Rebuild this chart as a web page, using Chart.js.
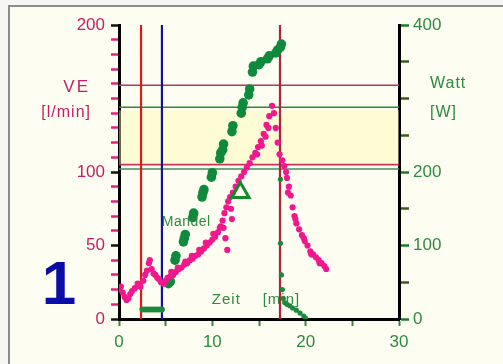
<!DOCTYPE html>
<html>
<head>
<meta charset="utf-8">
<script src="https://cdn.jsdelivr.net/npm/chart.js@4/dist/chart.umd.min.js"></script>
<style>
  html,body{margin:0;padding:0;background:#f6f6f4;width:503px;height:364px;overflow:hidden;}
  #frame{position:absolute;left:8px;top:5px;width:500px;height:364px;border-left:2px solid #8c8c8c;border-top:2px solid #8c8c8c;background:#fdfdf1;}
  #c{position:absolute;left:0;top:0;}
</style>
</head>
<body>
<div id="frame"></div>
<canvas id="c" width="503" height="364"></canvas>
<script>
// ---- data ----
const timeVE = [0.0,0.2,0.4,0.6,0.8,1.0,1.2,1.4,1.7,2.0,2.3,2.6,
  2.8,3.0,3.2,3.3,3.5,3.7,3.9,4.1,4.3,4.5,
  4.8,5.0,5.2,5.5,5.8,6.1,6.4,6.7,7.0,7.3,7.6,7.9,8.2,8.5,8.8,9.1,9.4,9.7,10.0,10.3,10.6,10.9,11.1,11.3,11.5,11.7,11.9,12.2,12.5,12.8,13.1,13.4,13.7,14.0,14.3,14.6,14.9,15.2,15.5,15.8,16.1,16.4,
  5.6,6.3,7.1,7.8,8.6,9.3,10.1,10.8,
  11.4,11.6,11.2,12.0,12.1,14.8,15.3,15.7,16.0,
  16.6,16.8,17.0,17.2,17.5,17.7,17.9,18.0,18.2,18.4,18.6,18.8,19.0,19.3,19.6,19.9,20.2,20.5,20.8,21.1,21.4,21.7,22.0,22.2,
  18.1,18.9,19.8,20.6,21.5];
const veValues = [20,22,18,15,13,14,17,19,21,24,22,26,
  30,33,38,40,34,31,30,28,27,25,
  24,26,28,29,30,32,34,35,37,38,40,41,43,44,46,48,50,52,54,56,59,63,67,72,76,80,83,86,90,94,97,100,103,106,110,113,117,121,126,132,138,145,
  32,35,39,43,47,52,58,62,
  55,47,62,75,68,112,118,124,130,
  140,130,120,112,108,104,100,96,90,84,76,70,65,61,57,53,50,46,44,42,40,38,36,34,
  86,68,55,44,38];
const warmupTime = [2.5,2.8,3.1,3.4,3.7,4.0,4.3,4.6];
const warmupWatt = [13,13,13,13,13,13,13,13];
const timeWatt = [5.3,5.5,6.0,6.1,6.9,7.0,7.1,7.9,8.0,8.9,9.0,9.1,9.9,10.0,10.8,10.9,11.1,11.2,12.1,12.2,13.1,13.2,13.3,13.9,14.0,14.3,14.4,15.0,15.2,15.9,16.1,16.8,17.0,17.3,17.4];
const wattValues = [48,51,80,86,105,110,115,138,144,166,172,176,193,199,218,226,230,238,255,263,280,288,294,305,313,336,344,346,350,354,358,362,366,370,374];
const recoveryTime = [17.3,17.3,17.4,17.5,17.6,17.8,18.0,18.3,18.6,19.0,19.4,19.8,20.0];
const recoveryWatt = [190,103,60,40,28,22,20,18,15,12,8,4,1];
const xTickLabels = [0,10,20,30];
const veTickLabels = [0,50,100,200];
const wattTickLabels = [0,100,200,400];
const markerTimes = [2.36, 4.6, 17.25];
const veThresholds = [159, 105];
const wattThresholds = [288, 204];
const bandVE = [105, 142];
const mandelTime = [13.0];
const mandelVE = [86];

// ---- styling ----
const FONT = "'Liberation Sans', Arial, sans-serif";
const MAG = '#c41f66';
const GRN = '#2d8a3e';

const vLineColors = ['#e01818', '#14149a', '#b3213a'];
const veLineColors = ['#a83a68', '#c8345a'];
const wLineColors = ['#2e8a2e', '#3f8f5a'];

const datasets = [];
datasets.push({type:'scatter', label:'Mandel', yAxisID:'yL',
  data: mandelTime.map((t,i)=>({x:t,y:mandelVE[i]})),
  pointStyle:'triangle', pointRadius:10, borderColor:'#138a2a', borderWidth:3, backgroundColor:'rgba(0,0,0,0)'});
datasets.push({type:'scatter', label:'VE', yAxisID:'yL',
  data: timeVE.map((t,i)=>({x:t,y:veValues[i]})),
  pointRadius:3.1, pointBorderWidth:0, backgroundColor:'#f2178c', borderColor:'#f2178c'});
datasets.push({type:'scatter', label:'Watt', yAxisID:'yR',
  data: timeWatt.map((t,i)=>({x:t,y:wattValues[i]})),
  pointRadius:4.8, pointBorderWidth:0, backgroundColor:'#0f8a3c', borderColor:'#0f8a3c'});
datasets.push({type:'line', label:'Watt warm-up', yAxisID:'yR',
  data: warmupTime.map((t,i)=>({x:t,y:warmupWatt[i]})),
  borderColor:'#1a8a3a', borderWidth:3, pointRadius:1.5, backgroundColor:'#1a8a3a'});
datasets.push({type:'scatter', label:'Watt recovery', yAxisID:'yR',
  data: recoveryTime.map((t,i)=>({x:t,y:recoveryWatt[i]})),
  pointRadius:2.6, pointBorderWidth:0, backgroundColor:'#1a8a3a', borderColor:'#1a8a3a'});
markerTimes.forEach((t,i)=>datasets.push({type:'line', yAxisID:'yL',
  data:[{x:t,y:0},{x:t,y:200}], borderColor:vLineColors[i], borderWidth:2.2, pointRadius:0}));
veThresholds.forEach((v,i)=>datasets.push({type:'line', yAxisID:'yL',
  data:[{x:0,y:v},{x:30,y:v}], borderColor:veLineColors[i], borderWidth:1.6, pointRadius:0}));
wattThresholds.forEach((v,i)=>datasets.push({type:'line', yAxisID:'yR',
  data:[{x:0,y:v},{x:30,y:v}], borderColor:wLineColors[i], borderWidth:1.6, pointRadius:0}));
datasets.push({type:'line', yAxisID:'yL',
  data:[{x:0,y:bandVE[1]},{x:30,y:bandVE[1]}], borderWidth:0, pointRadius:0,
  fill:{value:bandVE[0]}, backgroundColor:'rgba(255,250,175,0.42)'});

const textPlugin = {
  id:'texts',
  afterDatasetsDraw(chart){
    const ctx = chart.ctx, x = chart.scales.x, yL = chart.scales.yL, ca = chart.chartArea;
    ctx.save();
    ctx.textBaseline = 'middle';
    ctx.letterSpacing = '2px';
    ctx.font = '17px ' + FONT;
    ctx.fillStyle = MAG; ctx.textAlign = 'right';
    ctx.fillText('VE', ca.left - 29, yL.getPixelForValue(159) + 2);
    ctx.letterSpacing = '1px';
    ctx.font = '16px ' + FONT;
    ctx.fillText('[l/min]', ca.left - 28, yL.getPixelForValue(141) + 1);
    ctx.fillStyle = GRN; ctx.textAlign = 'left';
    ctx.font = '16px ' + FONT;
    ctx.fillText('Watt', ca.right + 31, yL.getPixelForValue(160));
    ctx.fillText('[W]', ca.right + 31, yL.getPixelForValue(141) + 1);
    ctx.letterSpacing = '0.5px';
    ctx.font = '14px ' + FONT;
    ctx.textAlign = 'center';
    ctx.fillText('Mandel', x.getPixelForValue(7.2), yL.getPixelForValue(66));
    ctx.font = '15px ' + FONT;
    ctx.letterSpacing = '1px';
    ctx.fillText('Zeit', x.getPixelForValue(11.5), yL.getPixelForValue(13));
    ctx.fillText('[min]', x.getPixelForValue(17.4), yL.getPixelForValue(13));
    ctx.letterSpacing = '0px';
    ctx.fillStyle = '#0c0ca6';
    ctx.font = 'bold 62px ' + FONT;
    ctx.textBaseline = 'alphabetic';
    ctx.fillText('1', 59, 304);
    ctx.restore();
  }
};

new Chart(document.getElementById('c'), {
  data:{datasets},
  options:{
    responsive:false, animation:false,
    layout:{padding:{top:25,left:0,right:0,bottom:0}},
    plugins:{legend:{display:false}, tooltip:{enabled:false}},
    scales:{
      x:{type:'linear', position:'bottom', min:0, max:30,
        ticks:{stepSize:5, autoSkip:false, maxRotation:0, color:GRN, font:{family:FONT,size:17}, padding:6,
          callback:v=>xTickLabels.includes(v)?String(v):''},
        grid:{drawOnChartArea:false, drawTicks:true, tickLength:7, tickWidth:2, tickColor:GRN},
        border:{color:'#000', width:3},
        afterFit:s=>{s.height=45;}},
      yL:{type:'linear', position:'left', min:0, max:200,
        ticks:{stepSize:10, autoSkip:false, color:MAG, font:{family:FONT,size:17}, padding:6,
          callback:v=>veTickLabels.includes(v)?String(v):''},
        grid:{drawOnChartArea:false, drawTicks:true, tickLength:8, tickWidth:2.5,
          tickColor:c=>veTickLabels.includes(c.tick.value)?'#111':'#ea1d7e'},
        border:{color:'#000', width:3},
        afterFit:s=>{s.width=119;}},
      yR:{type:'linear', position:'right', min:0, max:400,
        ticks:{stepSize:50, autoSkip:false, color:GRN, font:{family:FONT,size:17}, padding:4,
          callback:v=>wattTickLabels.includes(v)?String(v):''},
        grid:{drawOnChartArea:false, drawTicks:true, tickLength:10, tickWidth:2.5,
          tickColor:c=>wattTickLabels.includes(c.tick.value)?'#1d7a2a':'#3a5a20'},
        border:{color:'#000', width:3},
        afterFit:s=>{s.width=104;}}
    }
  },
  plugins:[textPlugin]
});
</script>
</body>
</html>
